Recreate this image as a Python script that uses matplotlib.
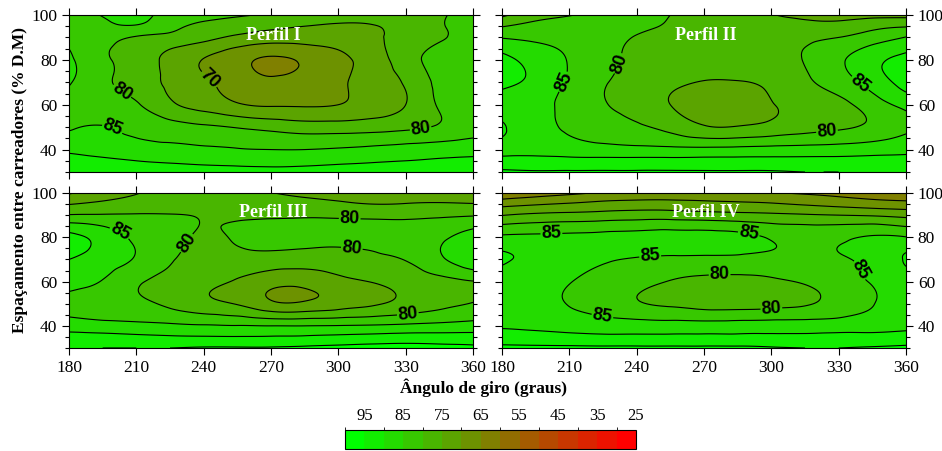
import numpy as np
import matplotlib
matplotlib.use("Agg")
import matplotlib.pyplot as plt
import matplotlib.tri as mtri
from matplotlib.colors import ListedColormap, BoundaryNorm
from matplotlib.cm import ScalarMappable
from matplotlib.ticker import MultipleLocator

# ---------------- data ----------------
angles = [180, 195, 210, 225, 240, 255, 270, 285, 300, 315, 330, 345, 360]
spacing = [30, 35, 40, 50, 60, 70, 80, 90, 95, 100]
angle_ticks = [180, 210, 240, 270, 300, 330, 360]

perfil_1 = [
    [94, 93.5, 93, 92.5, 92, 91.5, 91.3, 91.5, 92, 92.5, 93, 93.5, 94],
    [91.8, 91, 90, 89.3, 88.8, 88.5, 88.3, 88.5, 89, 89.5, 90, 90.5, 91],
    [89, 88, 87, 86.3, 85.8, 85.3, 85, 85, 85.5, 86.2, 87, 87.8, 88.2],
    [84.5, 85.2, 83.5, 82, 80.8, 79.7, 78.5, 77.5, 77.5, 78, 79, 80.5, 82.5],
    [83, 82.5, 80.5, 76, 73, 70.5, 69.5, 69.5, 70, 72, 75, 80.5, 82.5],
    [85.5, 81, 77.8, 74, 70.8, 67.8, 65.8, 66.8, 69, 72.5, 75.5, 81.5, 83],
    [86, 80.8, 77.8, 73.5, 69.8, 66.5, 64.3, 65.8, 68.5, 72.5, 77.5, 82, 83],
    [84, 82, 79.6, 78.5, 76.5, 74, 72.5, 72.3, 72.5, 74, 77, 79.5, 82],
    [83, 84, 84.5, 81.5, 79, 77.5, 76, 75, 74.5, 74.8, 76.5, 79.5, 82],
    [83.5, 85.2, 86, 83.5, 81.5, 80.5, 79.3, 77.5, 76.5, 76.5, 77.5, 79.5, 81.5],
]
perfil_2 = [
    [96, 95.5, 95.5, 95.5, 95.5, 95.5, 95.5, 95.5, 95.5, 95, 95, 94.5, 94.5],
    [91.5, 91.5, 91.5, 91.5, 91.5, 91.5, 91.5, 91.5, 91.5, 91.5, 91.5, 91.5, 91.5],
    [89, 88.5, 87.5, 86.8, 86.5, 86.3, 86.3, 86.5, 86.8, 87, 87.3, 88, 88.8],
    [90.5, 87, 84.3, 82.5, 80.8, 78.5, 75.5, 75.3, 76.5, 78, 79.3, 81, 84],
    [88, 86.5, 83.5, 80.4, 78, 75, 73.5, 73.5, 74.8, 76.5, 78.5, 82.5, 86.5],
    [91.5, 88.5, 84.3, 80.5, 78, 76, 74.8, 74.8, 76, 79, 82.5, 87, 92],
    [91.5, 88, 84.7, 81.5, 79, 78, 77.5, 77.5, 78.5, 80.2, 84, 88.5, 91.5],
    [84.7, 84, 83.5, 82, 79.7, 78.5, 78, 77.8, 78, 79, 80, 82.5, 85.2],
    [79.7, 81.5, 82, 82, 81, 79.5, 78.5, 77.5, 77, 76.5, 76.5, 78.5, 79.6],
    [74, 78, 79.8, 81, 80.8, 80, 79, 78, 75.3, 74, 73.5, 73.5, 73.5],
]
perfil_3 = [
    [95, 95, 95, 95, 95.5, 95.5, 95.5, 96, 96.5, 97, 97, 96.5, 96],
    [92, 91.5, 91, 90.5, 90.3, 90.2, 90.3, 90.5, 91, 91.5, 92, 92, 92],
    [87.5, 87, 86.5, 86, 85.5, 85.2, 85, 85, 85.2, 85.5, 86, 86.5, 87],
    [84, 82.5, 81, 79, 76.5, 74.7, 71, 70.8, 72.5, 74.3, 76.5, 78.5, 80.3],
    [86.5, 84.7, 80.8, 78.5, 76.5, 74.5, 71.8, 71.6, 73.5, 75.2, 77, 78.5, 79.8],
    [90, 87.5, 84.5, 80.5, 78.5, 78.3, 78, 77.5, 78, 79, 80.2, 84, 89],
    [91.5, 88, 84, 81.5, 79.5, 80.5, 81.5, 81.5, 81, 81, 82, 84, 87.5],
    [80.3, 80.4, 80.4, 80.2, 79.7, 79.5, 79.5, 79.5, 79.3, 79, 78.8, 79.2, 79.6],
    [74.8, 76, 77, 78, 78.5, 78.5, 78, 77, 76, 75, 75.2, 75.5, 75.2],
    [69.5, 72.5, 74.8, 76, 76.5, 76.5, 75.2, 73.5, 72.5, 72, 72, 72, 72.5],
]
perfil_4 = [
    [96, 96, 96, 96, 96, 96, 96, 96, 95.5, 95, 95, 95.5, 96],
    [92.5, 92, 91.5, 91, 91, 91, 91, 91, 91, 91, 91.5, 91.5, 92],
    [89.5, 88.8, 88, 87.5, 87.3, 87.2, 87.2, 87.3, 87.5, 87.5, 87.6, 88, 88.8],
    [88.5, 86.5, 84.8, 82.5, 80.5, 79.3, 78.2, 78, 78.5, 79.5, 82, 84.8, 87],
    [88, 87, 85.2, 83, 81.5, 79.8, 78.8, 78.6, 79.2, 80.5, 82.8, 85.3, 87.5],
    [90.5, 89, 87.5, 85.8, 84.5, 84, 83.8, 83.7, 83.5, 83.5, 84.5, 86.5, 90.5],
    [86, 86.2, 86.3, 86.5, 86.8, 87, 87, 86.5, 84.5, 83.5, 84, 85.5, 85.2],
    [74.8, 76, 76.5, 77, 77.5, 77.5, 77, 76.5, 76, 75.5, 75, 74.5, 73.5],
    [68.3, 69.5, 70.5, 71.5, 72, 72, 71.5, 71, 70.5, 69.5, 68.5, 67.5, 66.8],
    [60.5, 62.5, 64, 65.5, 66.3, 66.5, 66.3, 66, 65.3, 64.5, 63.5, 62, 61],
]
panel_titles = ["Perfil I", "Perfil II", "Perfil III", "Perfil IV"]
levels = list(range(25, 101, 5))
cbar_labels = [95, 85, 75, 65, 55, 45, 35, 25]

# label placements (layout)
label_spots = [
    {80: [(203, 65), (337, 47)], 70: [(240, 68)], 85: [(200, 51)]},
    {85: [(206, 71), (340, 70)], 80: [(233, 78), (325, 46)]},
    {85: [(202, 81)], 80: [(233, 77), (305, 83), (306, 75), (331, 45)]},
    {85: [(202, 82), (246, 72), (290, 82), (339, 65), (225, 46)],
     80: [(277, 62), (300, 48)]},
]

# ---------------- style ----------------
serif = ["Liberation Serif", "DejaVu Serif"]
plt.rcParams["font.family"] = serif

n = len(levels) - 1
cols = []
for k in range(n):
    t = k / (n - 1)
    cols.append((t, 1 - t, 0.0))
cmap = ListedColormap(cols[::-1])  # ascending levels -> red .. green
norm = BoundaryNorm(levels, cmap.N)

fig = plt.figure(figsize=(9.42, 4.51), dpi=100)
W, H = 942, 451
def ax_rect(x0, x1, y0, y1):
    return [x0 / W, 1 - y1 / H, (x1 - x0) / W, (y1 - y0) / H]

rects = [ax_rect(69, 473, 15, 172), ax_rect(502, 906, 15, 172),
         ax_rect(69, 473, 193, 348), ax_rect(502, 906, 193, 348)]

X, Y = np.meshgrid(np.array(angles, float), np.array(spacing, float))
tri = mtri.Triangulation(X.ravel(), Y.ravel())
xf = np.linspace(180, 360, 361)
yf = np.linspace(30, 100, 281)
XF, YF = np.meshgrid(xf, yf)

for i, (data, title) in enumerate(zip([perfil_1, perfil_2, perfil_3, perfil_4], panel_titles)):
    ax = fig.add_axes(rects[i])
    Z = np.array(data, float)
    interp = mtri.CubicTriInterpolator(tri, Z.ravel(), kind="min_E")
    ZF = interp(XF, YF)
    ax.contourf(XF, YF, ZF, levels=levels, cmap=cmap, norm=norm)
    labelled = label_spots[i]
    plain = [lv for lv in levels if lv not in labelled]
    ax.contour(XF, YF, ZF, levels=plain, colors="black", linewidths=0.8)
    for lv, spots in labelled.items():
        cs = ax.contour(XF, YF, ZF, levels=[lv], colors="black", linewidths=0.8)
        if len(cs.allsegs[0]) == 0:
            continue
        cs.clabel(manual=spots, fmt="%d", inline=True, inline_spacing=2, fontsize=13)
        for t in cs.labelTexts:
            t.set_fontfamily(["Liberation Sans", "DejaVu Sans"])
            t.set_fontweight("bold")
    ax.text(271, 91, title, color="white", fontsize=13, fontweight="bold",
            ha="center", va="center")
    ax.set_xlim(180, 360)
    ax.set_ylim(30, 100)
    ax.set_xticks(angle_ticks)
    ax.set_yticks([40, 60, 80, 100])
    ax.yaxis.set_minor_locator(MultipleLocator(5))
    ax.tick_params(which="major", direction="out", length=5, width=0.8,
                   top=True, bottom=True, left=True, right=True, labelsize=12.5)
    ax.tick_params(which="minor", direction="out", length=3, width=0.8,
                   left=True, right=True)
    left_col = i % 2 == 0
    ax.tick_params(labelleft=left_col, labelright=not left_col,
                   labelbottom=(i >= 2))

fig.text(20 / W, 1 - 180 / H, "Espaçamento entre carreadores (% D.M)", rotation=90,
         ha="center", va="center", fontsize=12.5, fontweight="bold")
fig.text(483 / W, 1 - 388 / H, "Ângulo de giro (graus)", ha="center", va="center",
         fontsize=12.5, fontweight="bold")

cax = fig.add_axes(ax_rect(345, 636, 430, 449))
sm = ScalarMappable(norm=norm, cmap=cmap)
cb = fig.colorbar(sm, cax=cax, orientation="horizontal", drawedges=True, ticks=cbar_labels)
cax.invert_xaxis()
cax.xaxis.set_ticks_position("top")
cax.tick_params(length=0, labelsize=12, pad=4)
cb.outline.set_linewidth(0.8)
cb.dividers.set_linewidth(0.8)

fig.savefig("out.png", dpi=100)
